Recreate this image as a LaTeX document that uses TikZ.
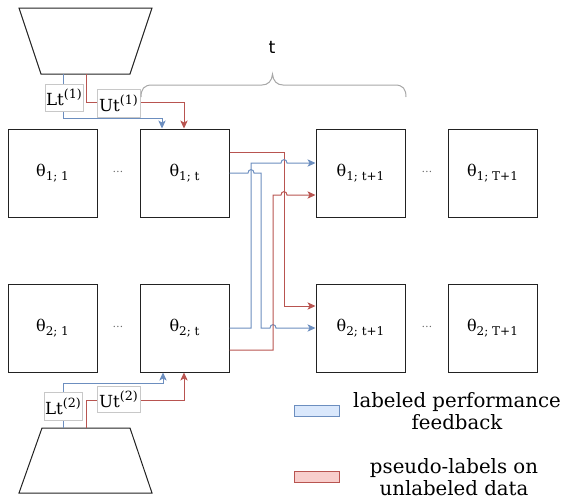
\documentclass[tikz,border=0pt]{standalone}
\usepackage{fontspec}
\setmainfont{DejaVu Serif}
\setsansfont{DejaVu Sans}
\usetikzlibrary{arrows.meta,calc}
\definecolor{bl}{HTML}{6C8EBF}
\definecolor{rd}{HTML}{B85450}
\definecolor{blf}{HTML}{DAE8FC}
\definecolor{rdf}{HTML}{F8CECC}
\definecolor{lblgray}{HTML}{C8C8C8}
\definecolor{bracegray}{HTML}{A8A8A8}
\definecolor{boxline}{HTML}{222222}
\newcommand{\mysub}[1]{\raisebox{-0.25em}{\fontsize{9}{10}\selectfont #1}}
\newcommand{\mysup}[1]{\raisebox{0.42em}{\fontsize{9.5}{10}\selectfont #1}}
\begin{document}
\begin{tikzpicture}[x=0.75pt,y=-0.75pt,
  thetabox/.style={draw=boxline,line width=0.75pt,minimum width=66.75pt,minimum height=66pt,inner sep=0pt,font=\fontsize{12}{14}\selectfont},
  dotsnode/.style={text=black!60,font=\fontsize{8}{9}\selectfont,inner sep=0pt},
  trap/.style={draw=boxline,line width=0.75pt},
  lbl/.style={draw=lblgray,fill=white,line width=0.6pt,inner sep=0pt,font=\fontsize{12.5}{14}\selectfont},
  bline/.style={draw=bl,line width=0.75pt},
  rline/.style={draw=rd,line width=0.75pt},
  tip/.style={-{Stealth[length=6pt,width=5.5pt,inset=1.5pt]}},
  legbox/.style={line width=0.75pt,minimum width=33.75pt,minimum height=8.25pt,inner sep=0pt},
  legtext/.style={align=center,font=\fontsize{14.8}{16}\selectfont,inner sep=0pt}]
\useasboundingbox (0,0) rectangle (564,501);
% theta boxes
\node[thetabox] (a1) at (52.5,173) {θ\mysub{1; 1}};
\node[thetabox] (t1) at (184.5,173) {θ\mysub{1; t}};
\node[thetabox] (s1) at (360.5,173) {θ\mysub{1; t+1}};
\node[thetabox] (z1) at (492.5,173) {θ\mysub{1; T+1}};
\node[thetabox] (a2) at (52.5,328) {θ\mysub{2; 1}};
\node[thetabox] (t2) at (184.5,328) {θ\mysub{2; t}};
\node[thetabox] (s2) at (360.5,328) {θ\mysub{2; t+1}};
\node[thetabox] (z2) at (492.5,328) {θ\mysub{2; T+1}};
\node[dotsnode] (d1) at (118,172) {\dots};
\node[dotsnode] (d2) at (427,172) {\dots};
\node[dotsnode] (d3) at (118,327) {\dots};
\node[dotsnode] (d4) at (427,327) {\dots};
% trapezoids
\draw[trap] (19,8) -- (152,8) -- (130,74) -- (41,74) -- cycle;
\draw[trap] (42,428) -- (130,428) -- (152,493) -- (19,493) -- cycle;
\coordinate (e1l) at (63,74);
\coordinate (e1r) at (86,74);
\coordinate (e2l) at (63,428);
\coordinate (e2r) at (86,428);
% top feeds
\draw[bline,tip] (e1l) -- ++(0,44) -| ($(t1.north)+(-22.5,0)$);
\draw[rline,tip] (e1r) -- ++(0,28) -| ($(t1.north)+(-0.5,0)$);
% bottom feeds
\draw[bline,tip] (e2l) -- ++(0,-45) -| ($(t2.south)+(-21.5,0)$);
\draw[rline,tip] (e2r) -- ++(0,-28) -| ($(t2.south)+(-0.5,0)$);
% labels
\node[lbl,minimum width=28.5pt,minimum height=20.25pt] (L1) at (64,97.5) {Lt\mysup{(1)}};
\node[lbl,minimum width=32.25pt,minimum height=21pt] (U1) at (118.5,103) {Ut\mysup{(1)}};
\node[lbl,minimum width=28.5pt,minimum height=21pt] (L2) at (63,406) {Lt\mysup{(2)}};
\node[lbl,minimum width=32.25pt,minimum height=19.5pt] (U2) at (118.5,399) {Ut\mysup{(2)}};
% crossing connectors
\draw[rline,tip] ($(t1.east)+(0,-21)$) -- (284,152) -- (284,306) -- ($(s2.west)+(0,-22)$);
\draw[bline,tip] (t1.east) -- (248,173) .. controls (248,168.5) and (254,168.5) .. (254,173) -- (261,173) -- (261,328) -- (270,328) .. controls (270,323.5) and (276,323.5) .. (276,328) -- (s2.west);
\draw[bline,tip] (t2.east) -- (251,328) -- (251,163) -- (281,163) .. controls (281,158.5) and (287,158.5) .. (287,163) -- ($(s1.west)+(0,-10)$);
\draw[rline,tip] ($(t2.east)+(0,22)$) -- (273,350) -- (273,195) -- (281,195) .. controls (281,190.5) and (287,190.5) .. (287,195) -- ($(s1.west)+(0,22)$);
% brace
\draw[bracegray,line width=0.75pt] (141,97) .. controls (141,89) and (144,85) .. (152,85) -- (262,85) .. controls (268,85) and (272,81) .. (272.5,74) .. controls (273,81) and (277,85) .. (283,85) -- (395,85) .. controls (403,85) and (406,89) .. (406,97);
\node[font=\sffamily\fontsize{13}{14}\selectfont,inner sep=0pt] (tl) at (272,47) {t};
% legend
\node[legbox,draw=bl,fill=blf] (lg1) at (316.5,410.5) {};
\node[legtext] (lt1) at (457,411) {labeled performance\\feedback};
\node[legbox,draw=rd,fill=rdf] (lg2) at (316.5,476.5) {};
\node[legtext] (lt2) at (454,477) {pseudo-labels on\\unlabeled data};
\end{tikzpicture}
\end{document}
